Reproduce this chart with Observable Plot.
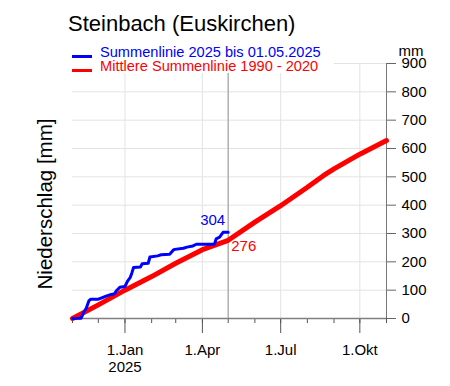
<!DOCTYPE html>
<html>
<head>
<meta charset="utf-8">
<script src="https://cdn.jsdelivr.net/npm/d3@7"></script>
<script src="https://cdn.jsdelivr.net/npm/@observablehq/plot@0.6"></script>
<style>
  html, body { margin: 0; padding: 0; background: #fff; }
</style>
</head>
<body>
<div id="chart"></div>
<script>
// ---- data ----
const titleText = "Steinbach (Euskirchen)";
const legendBlue = "Summenlinie 2025 bis 01.05.2025";
const legendRed = "Mittlere Summenlinie 1990 - 2020";
const yLabel = "Niederschlag [mm]";

// cumulative precipitation 2025 (hydrological year from 1 Nov 2024), mm
const blueDates = ["2024-11-01","2024-11-11","2024-11-14","2024-11-17","2024-11-20","2024-11-22",
  "2024-12-01","2024-12-05","2024-12-10","2024-12-16","2024-12-20","2024-12-22","2024-12-26",
  "2025-01-01","2025-01-04","2025-01-07","2025-01-09","2025-01-11","2025-01-19","2025-01-21",
  "2025-01-28","2025-01-30","2025-02-08","2025-02-12","2025-02-22","2025-02-26","2025-02-28",
  "2025-03-10","2025-03-14","2025-03-21","2025-03-25","2025-04-15","2025-04-17","2025-04-21",
  "2025-04-25","2025-05-01"];
const blueValues = [0, 1, 22, 36, 62, 68,
  68, 73, 79, 85, 87, 98, 110,
  113, 132, 144, 161, 180, 182, 193,
  195, 217, 221, 225, 227, 241, 244,
  248, 252, 256, 262, 262, 281, 287,
  304, 304];

// mean cumulative precipitation 1990-2020, mm
const redDates = ["2024-11-01","2024-12-01","2025-01-01","2025-02-01","2025-03-01","2025-04-01",
  "2025-05-01","2025-06-01","2025-07-01","2025-08-01","2025-08-20","2025-09-01","2025-10-01","2025-11-01"];
const redValues = [0, 48, 100, 148, 195, 243, 276, 340, 398, 463, 505, 528, 580, 628];

const monthTicks = ["2024-11-01","2024-12-01","2025-01-01","2025-02-01","2025-03-01","2025-04-01",
  "2025-05-01","2025-06-01","2025-07-01","2025-08-01","2025-09-01","2025-10-01","2025-11-01"];
const majorTicks = ["2025-01-01","2025-04-01","2025-07-01","2025-10-01"];
const majorLabels = ["1.Jan\n2025","1.Apr","1.Jul","1.Okt"];
const yTicks = [0,100,200,300,400,500,600,700,800,900];
const markerDate = "2025-05-01";
const blueEndLabel = "304";
const redMarkerLabel = "276";

// ---- build ----
const D = s => new Date(s + "T00:00:00Z");
const blue = blueDates.map((d, i) => ({date: D(d), v: blueValues[i]}));
const red = redDates.map((d, i) => ({date: D(d), v: redValues[i]}));
const months = monthTicks.map(D);
const majors = majorTicks.map(D);
const majorFmt = new Map(majorTicks.map((d, i) => [+D(d), majorLabels[i]]));
const marker = D(markerDate);
const xStart = D("2024-11-01"), xEnd = D("2025-11-01");

const font = "'Liberation Sans', Arial, Helvetica, sans-serif";

const chart = Plot.plot({
  width: 450,
  height: 386,
  marginTop: 63,
  marginBottom: 68,
  marginLeft: 72,
  marginRight: 64,
  style: {fontFamily: font, fontSize: "15px", background: "#fff", color: "#000", overflow: "visible"},
  x: {type: "utc", domain: [xStart, xEnd]},
  y: {domain: [0, 900]},
  marks: [
    Plot.gridX(majors, {stroke: "#e3e3e3", strokeOpacity: 1}),
    Plot.gridY(yTicks.filter(t => t > 0), {stroke: "#e3e3e3", strokeOpacity: 1}),
    Plot.ruleX([marker], {stroke: "#b0b0b0", strokeWidth: 1.5}),
    Plot.axisX(months, {tickSize: 5, tickFormat: () => "", stroke: "#555"}),
    Plot.axisX(majors, {tickSize: 15, tickPadding: 9, stroke: "#555", fontSize: 15,
      tickFormat: d => majorFmt.get(+d), lineHeight: 1.15, label: null}),
    Plot.axisY(yTicks, {anchor: "right", tickSize: 9, tickPadding: 6, stroke: "#666",
      fontSize: 15, label: null}),
    Plot.ruleY([0], {stroke: "#808080", strokeWidth: 1.5}),
    Plot.ruleX([xEnd], {stroke: "#777", strokeWidth: 1}),
    Plot.line(red, {x: "date", y: "v", stroke: "#ff0000", strokeWidth: 5, strokeLinecap: "round"}),
    Plot.line(blue, {x: "date", y: "v", stroke: "#0000ff", strokeWidth: 3}),
    Plot.text([{date: marker, v: blueValues[blueValues.length - 1]}], {x: "date", y: "v", text: () => blueEndLabel,
      textAnchor: "end", dx: -3, dy: -12, fill: "#0000ff", fontSize: 15}),
    Plot.text([{date: marker, v: redValues[redDates.indexOf(markerDate)]}], {x: "date", y: "v", text: () => redMarkerLabel,
      textAnchor: "start", dx: 3, dy: 6, fill: "#ff0000", fontSize: 15})
  ]
});

const svg = d3.select(chart);
const addText = (x, y, size, fill, txt, anchor = "start") =>
  svg.append("text").attr("x", x).attr("y", y).attr("font-size", size).attr("fill", fill)
    .attr("font-family", font).attr("text-anchor", anchor).text(txt);
// legend background
svg.append("rect").attr("x", 68).attr("y", 38).attr("width", 266).attr("height", 35).attr("fill", "#fff");
// title
addText(68, 31, 22, "#000", titleText);
// legend
svg.append("line").attr("x1", 72).attr("x2", 92).attr("y1", 56.5).attr("y2", 56.5)
  .attr("stroke", "#0000ff").attr("stroke-width", 3);
addText(100, 57, 14.6, "#0000ff", legendBlue);
svg.append("line").attr("x1", 72).attr("x2", 92).attr("y1", 70.5).attr("y2", 70.5)
  .attr("stroke", "#ff0000").attr("stroke-width", 3);
addText(100, 71, 14.6, "#ff0000", legendRed);
// unit label
addText(411, 56, 15, "#000", "mm", "middle");
// y label
svg.append("text").attr("transform", "translate(52,204) rotate(-90)").attr("font-size", 20.5)
  .attr("text-anchor", "middle").attr("font-family", font).attr("fill", "#000").text(yLabel);

document.getElementById("chart").appendChild(chart);
</script>
</body>
</html>
